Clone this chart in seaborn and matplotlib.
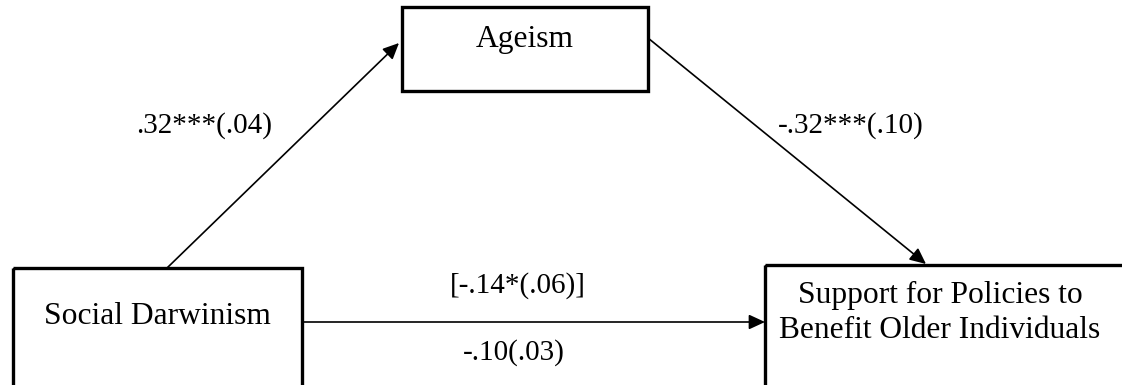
import matplotlib
matplotlib.use("Agg")
import matplotlib.pyplot as plt
import seaborn as sns
from matplotlib.patches import Rectangle, FancyArrowPatch

# Node names of the mediation model
nodes = ["Social Darwinism", "Ageism", "Support for Policies to\nBenefit Older Individuals"]

# Path coefficients: a path, b path, direct (c') and total (c) effect
paths = ["a", "b", "c_total", "c_direct"]
coefs = [0.32, -0.32, -0.14, -0.10]
ses = [0.04, 0.10, 0.06, 0.03]
stars = ["***", "***", "*", ""]


def fmt(v):
    s = f"{abs(v):.2f}".lstrip("0")
    return ("-" if v < 0 else "") + s


labels = [f"{fmt(c)}{s}({fmt(e)})" for c, e, s in zip(coefs, ses, stars)]
labels[2] = "[" + labels[2] + "]"

# layout in pixel coordinates (x0, y0, x1, y1) and text anchors
W, H = 1122, 385
box_geom = {
    nodes[0]: (13, 268, 302, 388),
    nodes[1]: (402, 7, 648, 91),
    nodes[2]: (765, 265, 1126, 388),
}
text_pos = {nodes[0]: (157, 316), nodes[1]: (525, 40), nodes[2]: (940, 313)}
arrow_pts = [((167, 268), (399, 43)), ((648, 38), (926, 264)), ((302, 322), (765, 322))]
label_pos = [(204, 126), (851, 126), (518, 286), (514, 353)]

sns.set_theme(style="white")
plt.rcParams["font.family"] = ["Liberation Serif", "DejaVu Serif"]

fig = plt.figure(figsize=(W / 100, H / 100), dpi=100)
ax = fig.add_axes([0, 0, 1, 1])
ax.set_xlim(0, W)
ax.set_ylim(H, 0)
ax.axis("off")

for name in nodes:
    x0, y0, x1, y1 = box_geom[name]
    ax.add_patch(Rectangle((x0, y0), x1 - x0, y1 - y0, fill=False,
                           ec="black", lw=2.4, zorder=2))
    tx, ty = text_pos[name]
    ax.text(tx, ty, name, ha="center", va="center", fontsize=22.7,
            linespacing=1.3, color="black")

for (p0, p1) in arrow_pts:
    ax.add_patch(FancyArrowPatch(p0, p1, arrowstyle="-|>,head_length=0.65,head_width=0.3",
                                 mutation_scale=15, lw=1.2, color="black",
                                 shrinkA=0, shrinkB=0, zorder=3))

for lab, (lx, ly) in zip(labels, label_pos):
    ax.text(lx, ly, lab, ha="center", va="center", fontsize=21, color="black")

fig.savefig("out.png", dpi=100)
plt.close(fig)
